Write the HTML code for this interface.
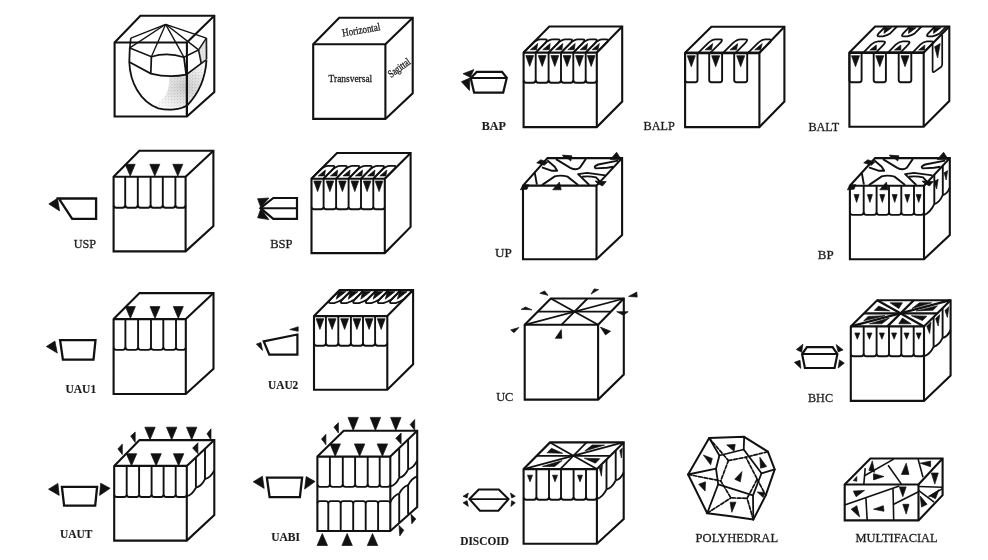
<!DOCTYPE html>
<html><head><meta charset="utf-8"><title>Core typology diagram</title>
<style>
html,body{margin:0;padding:0;background:#fff;}
body{width:988px;height:560px;overflow:hidden;font-family:"Liberation Serif",serif;}
svg{display:block;font-family:"Liberation Serif",serif;}
</style></head><body>
<svg width="988" height="560" viewBox="0 0 988 560">
<rect width="988" height="560" fill="#fff"/>
<defs><filter id="gray" x="0" y="0" width="988" height="560" filterUnits="userSpaceOnUse" color-interpolation-filters="sRGB"><feColorMatrix type="saturate" values="0"/><feGaussianBlur stdDeviation="0.45"/></filter></defs>
<g filter="url(#gray)">
<polygon points="114.6,42.5 140.4,15.8 214.3,15.8 214.3,92 186.9,116.5 114.6,116.5" fill="#fff" stroke="#111" stroke-width="2.1" stroke-linejoin="miter"/>
<polyline points="114.6,42.5 186.9,42.5 186.9,116.5" fill="none" stroke="#111" stroke-width="2.1" />
<line x1="186.9" y1="42.5" x2="214.3" y2="15.8" stroke="#111" stroke-width="2.1" />
<polygon points="313.2,44.2 339.2,17.7 412.7,17.7 412.7,93.2 385.4,118.9 313.2,118.9" fill="#fff" stroke="#111" stroke-width="2.1" stroke-linejoin="miter"/>
<polyline points="313.2,44.2 385.4,44.2 385.4,118.9" fill="none" stroke="#111" stroke-width="2.1" />
<line x1="385.4" y1="44.2" x2="412.7" y2="17.7" stroke="#111" stroke-width="2.1" />
<polygon points="523.6,52.6 549.3,26.5 622.2,26.5 622.2,101.6 596.8,127.1 523.6,127.1" fill="#fff" stroke="#111" stroke-width="2.1" stroke-linejoin="miter"/>
<polyline points="523.6,52.6 596.8,52.6 596.8,127.1" fill="none" stroke="#111" stroke-width="2.1" />
<line x1="596.8" y1="52.6" x2="622.2" y2="26.5" stroke="#111" stroke-width="2.1" />
<polygon points="685.1,52.8 711.4,26.8 784.4,26.8 784.4,101.6 759.4,127.1 685.1,127.1" fill="#fff" stroke="#111" stroke-width="2.1" stroke-linejoin="miter"/>
<polyline points="685.1,52.8 759.4,52.8 759.4,127.1" fill="none" stroke="#111" stroke-width="2.1" />
<line x1="759.4" y1="52.8" x2="784.4" y2="26.8" stroke="#111" stroke-width="2.1" />
<polygon points="849.4,52.6 875.1,26.5 949.3,26.5 949.3,101 923.7,126.7 849.4,126.7" fill="#fff" stroke="#111" stroke-width="2.1" stroke-linejoin="miter"/>
<polyline points="849.4,52.6 923.7,52.6 923.7,126.7" fill="none" stroke="#111" stroke-width="2.1" />
<line x1="923.7" y1="52.6" x2="949.3" y2="26.5" stroke="#111" stroke-width="2.1" />
<polygon points="113.6,176.7 139.3,150.7 213.4,150.7 213.4,226 185.6,251.4 113.6,251.4" fill="#fff" stroke="#111" stroke-width="2.1" stroke-linejoin="miter"/>
<polyline points="113.6,176.7 185.6,176.7 185.6,251.4" fill="none" stroke="#111" stroke-width="2.1" />
<line x1="185.6" y1="176.7" x2="213.4" y2="150.7" stroke="#111" stroke-width="2.1" />
<polygon points="311.5,178.7 337,153 410.6,153 410.6,226.9 384.8,253.1 311.5,253.1" fill="#fff" stroke="#111" stroke-width="2.1" stroke-linejoin="miter"/>
<polyline points="311.5,178.7 384.8,178.7 384.8,253.1" fill="none" stroke="#111" stroke-width="2.1" />
<line x1="384.8" y1="178.7" x2="410.6" y2="153" stroke="#111" stroke-width="2.1" />
<polygon points="523,185.6 547.5,158.1 622.1,158.1 622.1,235 596.5,259.2 523,259.2" fill="#fff" stroke="#111" stroke-width="2.1" stroke-linejoin="miter"/>
<polyline points="523,185.6 596.5,185.6 596.5,259.2" fill="none" stroke="#111" stroke-width="2.1" />
<line x1="596.5" y1="185.6" x2="622.1" y2="158.1" stroke="#111" stroke-width="2.1" />
<polygon points="849.9,185.7 875.1,158.1 949.8,158.1 949.8,235 924,259.2 849.9,259.2" fill="#fff" stroke="#111" stroke-width="2.1" stroke-linejoin="miter"/>
<polyline points="849.9,185.7 924,185.7 924,259.2" fill="none" stroke="#111" stroke-width="2.1" />
<line x1="924" y1="185.7" x2="949.8" y2="158.1" stroke="#111" stroke-width="2.1" />
<polygon points="113.6,319.1 139.5,293.1 213.5,293.1 213.5,368.8 185.8,394 113.6,394" fill="#fff" stroke="#111" stroke-width="2.1" stroke-linejoin="miter"/>
<polyline points="113.6,319.1 185.8,319.1 185.8,394" fill="none" stroke="#111" stroke-width="2.1" />
<line x1="185.8" y1="319.1" x2="213.5" y2="293.1" stroke="#111" stroke-width="2.1" />
<polygon points="314,316.1 339.7,290.1 413.1,290.1 413.1,364.3 387.3,389.8 314,389.8" fill="#fff" stroke="#111" stroke-width="2.1" stroke-linejoin="miter"/>
<polyline points="314,316.1 387.3,316.1 387.3,389.8" fill="none" stroke="#111" stroke-width="2.1" />
<line x1="387.3" y1="316.1" x2="413.1" y2="290.1" stroke="#111" stroke-width="2.1" />
<polygon points="524.7,324.8 550.8,298.5 623.8,298.5 623.8,374.6 598.1,399.6 524.7,399.6" fill="#fff" stroke="#111" stroke-width="2.1" stroke-linejoin="miter"/>
<polyline points="524.7,324.8 598.1,324.8 598.1,399.6" fill="none" stroke="#111" stroke-width="2.1" />
<line x1="598.1" y1="324.8" x2="623.8" y2="298.5" stroke="#111" stroke-width="2.1" />
<polygon points="850.8,326.4 877.2,300.2 950.6,300.2 950.6,375.6 924,400.9 850.8,400.9" fill="#fff" stroke="#111" stroke-width="2.1" stroke-linejoin="miter"/>
<polyline points="850.8,326.4 924,326.4 924,400.9" fill="none" stroke="#111" stroke-width="2.1" />
<line x1="924" y1="326.4" x2="950.6" y2="300.2" stroke="#111" stroke-width="2.1" />
<polygon points="114.2,465.9 139.5,440.1 214.3,440.1 214.3,515 186.8,540.6 114.2,540.6" fill="#fff" stroke="#111" stroke-width="2.1" stroke-linejoin="miter"/>
<polyline points="114.2,465.9 186.8,465.9 186.8,540.6" fill="none" stroke="#111" stroke-width="2.1" />
<line x1="186.8" y1="465.9" x2="214.3" y2="440.1" stroke="#111" stroke-width="2.1" />
<polygon points="317.4,456.6 343.7,430.8 417.2,430.8 417.2,507 390.3,531 317.4,531" fill="#fff" stroke="#111" stroke-width="2.1" stroke-linejoin="miter"/>
<polyline points="317.4,456.6 390.3,456.6 390.3,531" fill="none" stroke="#111" stroke-width="2.1" />
<line x1="390.3" y1="456.6" x2="417.2" y2="430.8" stroke="#111" stroke-width="2.1" />
<polygon points="523.6,469.1 550,442.4 623.7,442.4 623.7,519 596.9,543.8 523.6,543.8" fill="#fff" stroke="#111" stroke-width="2.1" stroke-linejoin="miter"/>
<polyline points="523.6,469.1 596.9,469.1 596.9,543.8" fill="none" stroke="#111" stroke-width="2.1" />
<line x1="596.9" y1="469.1" x2="623.7" y2="442.4" stroke="#111" stroke-width="2.1" />
<polygon points="844.7,484.5 870.4,458.5 942.6,458.5 942.6,495.2 918.5,520.4 844.7,520.4" fill="#fff" stroke="#111" stroke-width="2.1" stroke-linejoin="miter"/>
<polyline points="844.7,484.5 918.5,484.5 918.5,520.4" fill="none" stroke="#111" stroke-width="2.1" />
<line x1="918.5" y1="484.5" x2="942.6" y2="458.5" stroke="#111" stroke-width="2.1" />
<line x1="125.2" y1="176.7" x2="125.2" y2="207.1" stroke="#111" stroke-width="1.9" />
<line x1="137.8" y1="176.7" x2="137.8" y2="207.1" stroke="#111" stroke-width="1.9" />
<line x1="150.6" y1="176.7" x2="150.6" y2="207.1" stroke="#111" stroke-width="1.9" />
<line x1="162.8" y1="176.7" x2="162.8" y2="207.1" stroke="#111" stroke-width="1.9" />
<line x1="175.4" y1="176.7" x2="175.4" y2="207.1" stroke="#111" stroke-width="1.9" />
<path d="M113.6,205.5 Q113.9,207.6 116.2,207.7 L122.6,207.7 Q124.9,207.6 125.2,205.5" fill="none" stroke="#111" stroke-width="1.9" />
<path d="M125.2,205.5 Q125.5,207.6 127.8,207.7 L135.2,207.7 Q137.5,207.6 137.8,205.5" fill="none" stroke="#111" stroke-width="1.9" />
<path d="M137.8,205.5 Q138.1,207.6 140.4,207.7 L148,207.7 Q150.3,207.6 150.6,205.5" fill="none" stroke="#111" stroke-width="1.9" />
<path d="M150.6,205.5 Q150.9,207.6 153.2,207.7 L160.2,207.7 Q162.5,207.6 162.8,205.5" fill="none" stroke="#111" stroke-width="1.9" />
<path d="M162.8,205.5 Q163.1,207.6 165.4,207.7 L172.8,207.7 Q175.1,207.6 175.4,205.5" fill="none" stroke="#111" stroke-width="1.9" />
<path d="M175.4,205.5 Q175.7,207.6 178,207.7 L183,207.7 Q185.3,207.6 185.6,205.5" fill="none" stroke="#111" stroke-width="1.9" />
<polygon points="125.2,164.3 135.2,164.3 130.2,176.1" fill="#111" stroke="#111" stroke-width="0.7" stroke-linejoin="round"/>
<polygon points="149.8,164.3 159.8,164.3 154.8,176.1" fill="#111" stroke="#111" stroke-width="0.7" stroke-linejoin="round"/>
<polygon points="172.8,164.3 182.8,164.3 177.8,176.1" fill="#111" stroke="#111" stroke-width="0.7" stroke-linejoin="round"/>
<polyline points="56.5,198.5 96.1,198.5 96.1,218.8 72.2,218.8 59.6,199.6" fill="none" stroke="#111" stroke-width="2.3" stroke-linejoin="miter"/>
<polygon points="48.8,203.9 57.5,198.3 59.6,210.9" fill="#111" stroke="#111" stroke-width="0.7" stroke-linejoin="round"/>
<line x1="323.6" y1="178.7" x2="323.6" y2="208.7" stroke="#111" stroke-width="1.9" />
<line x1="336.1" y1="178.7" x2="336.1" y2="208.7" stroke="#111" stroke-width="1.9" />
<line x1="348.6" y1="178.7" x2="348.6" y2="208.7" stroke="#111" stroke-width="1.9" />
<line x1="361" y1="178.7" x2="361" y2="208.7" stroke="#111" stroke-width="1.9" />
<line x1="373.3" y1="178.7" x2="373.3" y2="208.7" stroke="#111" stroke-width="1.9" />
<path d="M311.5,207.1 Q311.8,209.2 314.1,209.3 L321,209.3 Q323.3,209.2 323.6,207.1" fill="none" stroke="#111" stroke-width="1.9" />
<path d="M323.6,207.1 Q323.9,209.2 326.2,209.3 L333.5,209.3 Q335.8,209.2 336.1,207.1" fill="none" stroke="#111" stroke-width="1.9" />
<path d="M336.1,207.1 Q336.4,209.2 338.7,209.3 L346,209.3 Q348.3,209.2 348.6,207.1" fill="none" stroke="#111" stroke-width="1.9" />
<path d="M348.6,207.1 Q348.9,209.2 351.2,209.3 L358.4,209.3 Q360.7,209.2 361,207.1" fill="none" stroke="#111" stroke-width="1.9" />
<path d="M361,207.1 Q361.3,209.2 363.6,209.3 L370.7,209.3 Q373,209.2 373.3,207.1" fill="none" stroke="#111" stroke-width="1.9" />
<path d="M373.3,207.1 Q373.6,209.2 375.9,209.3 L382.2,209.3 Q384.5,209.2 384.8,207.1" fill="none" stroke="#111" stroke-width="1.9" />
<polygon points="313.8,181 321.4,181 317.6,191.6" fill="#111" stroke="#111" stroke-width="0.7" stroke-linejoin="round"/>
<polygon points="326.1,181 333.7,181 329.9,191.6" fill="#111" stroke="#111" stroke-width="0.7" stroke-linejoin="round"/>
<polygon points="338.6,181 346.2,181 342.4,191.6" fill="#111" stroke="#111" stroke-width="0.7" stroke-linejoin="round"/>
<polygon points="351,181 358.6,181 354.8,191.6" fill="#111" stroke="#111" stroke-width="0.7" stroke-linejoin="round"/>
<polygon points="363.3,181 370.9,181 367.1,191.6" fill="#111" stroke="#111" stroke-width="0.7" stroke-linejoin="round"/>
<polygon points="375.2,181 382.9,181 379.1,191.6" fill="#111" stroke="#111" stroke-width="0.7" stroke-linejoin="round"/>
<path d="M311.5,178.7 L320.4,169.7 Q324.5,165.8 327.9,165.8 L332.7,165.8 Q336.4,165.8 332,170.2 L323.6,178.7" fill="none" stroke="#111" stroke-width="1.8" />
<polygon points="318.2,175.9 324.5,175.9 325.4,170" fill="#111" stroke="#111" stroke-width="0.7" stroke-linejoin="round"/>
<path d="M323.6,178.7 L332.5,169.7 Q336.6,165.8 340.1,165.8 L345.1,165.8 Q348.9,165.8 344.5,170.2 L336.1,178.7" fill="none" stroke="#111" stroke-width="1.8" />
<polygon points="330.4,175.9 336.9,175.9 337.6,170" fill="#111" stroke="#111" stroke-width="0.7" stroke-linejoin="round"/>
<path d="M336.1,178.7 L345,169.7 Q349.1,165.8 352.6,165.8 L357.6,165.8 Q361.4,165.8 357,170.2 L348.6,178.7" fill="none" stroke="#111" stroke-width="1.8" />
<polygon points="342.9,175.9 349.4,175.9 350.1,170" fill="#111" stroke="#111" stroke-width="0.7" stroke-linejoin="round"/>
<path d="M348.6,178.7 L357.5,169.7 Q361.6,165.8 365.1,165.8 L370,165.8 Q373.8,165.8 369.4,170.2 L361,178.7" fill="none" stroke="#111" stroke-width="1.8" />
<polygon points="355.4,175.9 361.8,175.9 362.6,170" fill="#111" stroke="#111" stroke-width="0.7" stroke-linejoin="round"/>
<path d="M361,178.7 L369.9,169.7 Q374,165.8 377.4,165.8 L382.4,165.8 Q386.1,165.8 381.7,170.2 L373.3,178.7" fill="none" stroke="#111" stroke-width="1.8" />
<polygon points="367.7,175.9 374.1,175.9 375,170" fill="#111" stroke="#111" stroke-width="0.7" stroke-linejoin="round"/>
<path d="M373.3,178.7 L382.2,169.7 Q386.3,165.8 389.5,165.8 L394.1,165.8 Q397.6,165.8 393.2,170.2 L384.8,178.7" fill="none" stroke="#111" stroke-width="1.8" />
<polygon points="379.8,175.9 385.8,175.9 386.9,170" fill="#111" stroke="#111" stroke-width="0.7" stroke-linejoin="round"/>
<polygon points="260.5,208.2 273.3,198 297,198 297,218.8 273.3,218.8" fill="none" stroke="#111" stroke-width="2.2" />
<line x1="260.5" y1="208.2" x2="297" y2="208.2" stroke="#111" stroke-width="2" />
<polygon points="257.6,198.7 268.9,198 260.8,207.6" fill="#111" stroke="#111" stroke-width="0.7" stroke-linejoin="round"/>
<polygon points="260.8,208.8 268.9,219.6 257.6,217.8" fill="#111" stroke="#111" stroke-width="0.7" stroke-linejoin="round"/>
<line x1="535.7" y1="52.6" x2="535.7" y2="82.1" stroke="#111" stroke-width="1.9" />
<line x1="548.6" y1="52.6" x2="548.6" y2="82.1" stroke="#111" stroke-width="1.9" />
<line x1="561" y1="52.6" x2="561" y2="82.1" stroke="#111" stroke-width="1.9" />
<line x1="573.3" y1="52.6" x2="573.3" y2="82.1" stroke="#111" stroke-width="1.9" />
<line x1="585.7" y1="52.6" x2="585.7" y2="82.1" stroke="#111" stroke-width="1.9" />
<path d="M523.6,80.5 Q523.9,82.6 526.2,82.7 L533.1,82.7 Q535.4,82.6 535.7,80.5" fill="none" stroke="#111" stroke-width="1.9" />
<path d="M535.7,80.5 Q536,82.6 538.3,82.7 L546,82.7 Q548.3,82.6 548.6,80.5" fill="none" stroke="#111" stroke-width="1.9" />
<path d="M548.6,80.5 Q548.9,82.6 551.2,82.7 L558.4,82.7 Q560.7,82.6 561,80.5" fill="none" stroke="#111" stroke-width="1.9" />
<path d="M561,80.5 Q561.3,82.6 563.6,82.7 L570.7,82.7 Q573,82.6 573.3,80.5" fill="none" stroke="#111" stroke-width="1.9" />
<path d="M573.3,80.5 Q573.6,82.6 575.9,82.7 L583.1,82.7 Q585.4,82.6 585.7,80.5" fill="none" stroke="#111" stroke-width="1.9" />
<path d="M585.7,80.5 Q586,82.6 588.3,82.7 L594.2,82.7 Q596.5,82.6 596.8,80.5" fill="none" stroke="#111" stroke-width="1.9" />
<polygon points="525.8,55.6 533.6,55.6 529.7,66.4" fill="#111" stroke="#111" stroke-width="0.7" stroke-linejoin="round"/>
<polygon points="538.3,55.6 546.1,55.6 542.2,66.4" fill="#111" stroke="#111" stroke-width="0.7" stroke-linejoin="round"/>
<polygon points="550.9,55.6 558.7,55.6 554.8,66.4" fill="#111" stroke="#111" stroke-width="0.7" stroke-linejoin="round"/>
<polygon points="563.2,55.6 571,55.6 567.1,66.4" fill="#111" stroke="#111" stroke-width="0.7" stroke-linejoin="round"/>
<polygon points="575.6,55.6 583.4,55.6 579.5,66.4" fill="#111" stroke="#111" stroke-width="0.7" stroke-linejoin="round"/>
<polygon points="587.4,55.6 595.1,55.6 591.2,66.4" fill="#111" stroke="#111" stroke-width="0.7" stroke-linejoin="round"/>
<path d="M523.6,52.6 L532.8,43.3 Q536.9,39.3 540.3,39.3 L545.2,39.3 Q548.8,39.3 544.4,43.8 L535.7,52.6" fill="none" stroke="#111" stroke-width="1.8" />
<polygon points="530.4,49.7 536.6,49.7 537.7,43.5" fill="#111" stroke="#111" stroke-width="0.7" stroke-linejoin="round"/>
<path d="M535.7,52.6 L544.9,43.3 Q549.1,39.3 552.7,39.3 L557.8,39.3 Q561.7,39.3 557.3,43.8 L548.6,52.6" fill="none" stroke="#111" stroke-width="1.8" />
<polygon points="542.7,49.7 549.4,49.7 550.2,43.5" fill="#111" stroke="#111" stroke-width="0.7" stroke-linejoin="round"/>
<path d="M548.6,52.6 L557.8,43.3 Q562,39.3 565.4,39.3 L570.4,39.3 Q574.1,39.3 569.7,43.8 L561,52.6" fill="none" stroke="#111" stroke-width="1.8" />
<polygon points="555.5,49.7 561.9,49.7 562.8,43.5" fill="#111" stroke="#111" stroke-width="0.7" stroke-linejoin="round"/>
<path d="M561,52.6 L570.2,43.3 Q574.4,39.3 577.8,39.3 L582.7,39.3 Q586.4,39.3 582,43.8 L573.3,52.6" fill="none" stroke="#111" stroke-width="1.8" />
<polygon points="567.8,49.7 574.2,49.7 575.2,43.5" fill="#111" stroke="#111" stroke-width="0.7" stroke-linejoin="round"/>
<path d="M573.3,52.6 L582.5,43.3 Q586.7,39.3 590.1,39.3 L595.1,39.3 Q598.8,39.3 594.4,43.8 L585.7,52.6" fill="none" stroke="#111" stroke-width="1.8" />
<polygon points="580.2,49.7 586.6,49.7 587.5,43.5" fill="#111" stroke="#111" stroke-width="0.7" stroke-linejoin="round"/>
<path d="M585.7,52.6 L594.9,43.3 Q599,39.3 602.1,39.3 L606.6,39.3 Q609.9,39.3 605.5,43.8 L596.8,52.6" fill="none" stroke="#111" stroke-width="1.8" />
<polygon points="592.1,49.7 597.9,49.7 599.4,43.5" fill="#111" stroke="#111" stroke-width="0.7" stroke-linejoin="round"/>
<polygon points="476.7,71.9 502,71.9 506.8,77.8 503.2,92.6 474.1,92.6 470.7,78.1" fill="none" stroke="#111" stroke-width="2.2" />
<line x1="470.7" y1="77.9" x2="506.8" y2="77.9" stroke="#111" stroke-width="2" />
<polygon points="463,73.7 473.9,69.6 470.3,77.3" fill="#111" stroke="#111" stroke-width="0.7" stroke-linejoin="round"/>
<polygon points="461.4,81.7 469.8,78.1 469.5,90.5" fill="#111" stroke="#111" stroke-width="0.7" stroke-linejoin="round"/>
<path d="M685.1,52.8 L685.1,80 Q685.1,82.2 687.3,82.2 L695.3,82.2 Q697.5,82.2 697.5,80 L697.5,52.8" fill="none" stroke="#111" stroke-width="1.9" />
<polygon points="687.3,55.7 695.3,55.7 691.3,66.7" fill="#111" stroke="#111" stroke-width="0.7" stroke-linejoin="round"/>
<path d="M709.2,52.8 L709.2,80 Q709.2,82.2 711.4,82.2 L719.9,82.2 Q722.1,82.2 722.1,80 L722.1,52.8" fill="none" stroke="#111" stroke-width="1.9" />
<polygon points="711.7,55.7 719.7,55.7 715.7,66.7" fill="#111" stroke="#111" stroke-width="0.7" stroke-linejoin="round"/>
<path d="M734.2,52.8 L734.2,80 Q734.2,82.2 736.4,82.2 L745,82.2 Q747.2,82.2 747.2,80 L747.2,52.8" fill="none" stroke="#111" stroke-width="1.9" />
<polygon points="736.7,55.7 744.7,55.7 740.7,66.7" fill="#111" stroke="#111" stroke-width="0.7" stroke-linejoin="round"/>
<path d="M698.2,52.8 L707.8,43.3 Q712.1,39.3 715.5,39.3 L720.3,39.3 Q724,39.3 719.3,43.9 L710.3,52.8" fill="none" stroke="#111" stroke-width="1.8" />
<polygon points="705.1,49.8 711.4,49.8 712.7,43.6" fill="#111" stroke="#111" stroke-width="0.7" stroke-linejoin="round"/>
<path d="M723,52.8 L732.6,43.3 Q736.9,39.3 740.4,39.3 L745.4,39.3 Q749.2,39.3 744.5,43.9 L735.5,52.8" fill="none" stroke="#111" stroke-width="1.8" />
<polygon points="730,49.8 736.5,49.8 737.7,43.6" fill="#111" stroke="#111" stroke-width="0.7" stroke-linejoin="round"/>
<path d="M748,52.8 L757.6,43.3 Q761.9,39.3 765.1,39.3 L769.7,39.3 Q773.1,39.3 768.4,43.9 L759.4,52.8" fill="none" stroke="#111" stroke-width="1.8" />
<polygon points="754.7,49.8 760.6,49.8 762.2,43.6" fill="#111" stroke="#111" stroke-width="0.7" stroke-linejoin="round"/>
<line x1="685.1" y1="53" x2="759.4" y2="53" stroke="#111" stroke-width="2.6" />
<path d="M849.4,52.6 L849.4,80 Q849.4,82.2 851.6,82.2 L859.4,82.2 Q861.6,82.2 861.6,80 L861.6,52.6" fill="none" stroke="#111" stroke-width="1.9" />
<polygon points="851.5,55.7 859.5,55.7 855.5,66.7" fill="#111" stroke="#111" stroke-width="0.7" stroke-linejoin="round"/>
<path d="M873.7,52.6 L873.7,80 Q873.7,82.2 875.9,82.2 L883.7,82.2 Q885.9,82.2 885.9,80 L885.9,52.6" fill="none" stroke="#111" stroke-width="1.9" />
<polygon points="875.8,55.7 883.8,55.7 879.8,66.7" fill="#111" stroke="#111" stroke-width="0.7" stroke-linejoin="round"/>
<path d="M898.7,52.6 L898.7,80 Q898.7,82.2 900.9,82.2 L909.1,82.2 Q911.3,82.2 911.3,80 L911.3,52.6" fill="none" stroke="#111" stroke-width="1.9" />
<polygon points="901,55.7 909,55.7 905,66.7" fill="#111" stroke="#111" stroke-width="0.7" stroke-linejoin="round"/>
<path d="M863.4,52.6 L871.1,44.7 Q874.7,41.4 878.2,41.4 L883.2,41.4 Q887,41.4 883.2,45.2 L875.9,52.6" fill="none" stroke="#111" stroke-width="1.8" />
<polygon points="869.8,50.1 876.3,50.1 876.3,45" fill="#111" stroke="#111" stroke-width="0.7" stroke-linejoin="round"/>
<path d="M888,52.6 L895.7,44.7 Q899.3,41.4 902.8,41.4 L907.7,41.4 Q911.5,41.4 907.7,45.2 L900.4,52.6" fill="none" stroke="#111" stroke-width="1.8" />
<polygon points="894.4,50.1 900.8,50.1 900.8,45" fill="#111" stroke="#111" stroke-width="0.7" stroke-linejoin="round"/>
<path d="M912.6,52.6 L920.3,44.7 Q923.9,41.4 927,41.4 L931.4,41.4 Q934.8,41.4 931,45.2 L923.7,52.6" fill="none" stroke="#111" stroke-width="1.8" />
<polygon points="918.6,50.1 924.4,50.1 924.9,45" fill="#111" stroke="#111" stroke-width="0.7" stroke-linejoin="round"/>
<line x1="849.4" y1="52.8" x2="923.7" y2="52.8" stroke="#111" stroke-width="2.6" />
<path d="M885.5,26.5 L878.7,33.4 Q876,36.4 879.2,36.4 L882.9,36.4 Q887.3,35.2 890.2,33.4 L897,26.5" fill="none" stroke="#111" stroke-width="1.8" />
<polygon points="884.5,27.5 891.7,27.7 884,33.4" fill="#111" stroke="#111" stroke-width="0.7" stroke-linejoin="round"/>
<path d="M910,26.5 L903.2,33.4 Q900.5,36.4 903.7,36.4 L907.4,36.4 Q911.8,35.2 914.7,33.4 L921.5,26.5" fill="none" stroke="#111" stroke-width="1.8" />
<polygon points="909,27.5 916.2,27.7 908.5,33.4" fill="#111" stroke="#111" stroke-width="0.7" stroke-linejoin="round"/>
<path d="M935,26.5 L928.2,33.4 Q925.5,36.4 928.7,36.4 L932.4,36.4 Q936.8,35.2 939.7,33.4 L946.5,26.5" fill="none" stroke="#111" stroke-width="1.8" />
<polygon points="934,27.5 941.2,27.7 933.5,33.4" fill="#111" stroke="#111" stroke-width="0.7" stroke-linejoin="round"/>
<path d="M932.6,44.1 L932.6,71 Q932.8,73 934.6,71.6 L941,67 Q942.2,66 942.2,64 L942.2,35" fill="none" stroke="#111" stroke-width="1.7" />
<polygon points="934.6,46.8 940.2,43.6 937.6,58" fill="#111" stroke="#111" stroke-width="0.7" stroke-linejoin="round"/>
<line x1="125.4" y1="319.1" x2="125.4" y2="349.3" stroke="#111" stroke-width="1.9" />
<line x1="138.1" y1="319.1" x2="138.1" y2="349.3" stroke="#111" stroke-width="1.9" />
<line x1="151" y1="319.1" x2="151" y2="349.3" stroke="#111" stroke-width="1.9" />
<line x1="163.3" y1="319.1" x2="163.3" y2="349.3" stroke="#111" stroke-width="1.9" />
<line x1="176" y1="319.1" x2="176" y2="349.3" stroke="#111" stroke-width="1.9" />
<path d="M113.6,347.7 Q113.9,349.8 116.2,349.9 L122.8,349.9 Q125.1,349.8 125.4,347.7" fill="none" stroke="#111" stroke-width="1.9" />
<path d="M125.4,347.7 Q125.7,349.8 128,349.9 L135.5,349.9 Q137.8,349.8 138.1,347.7" fill="none" stroke="#111" stroke-width="1.9" />
<path d="M138.1,347.7 Q138.4,349.8 140.7,349.9 L148.4,349.9 Q150.7,349.8 151,347.7" fill="none" stroke="#111" stroke-width="1.9" />
<path d="M151,347.7 Q151.3,349.8 153.6,349.9 L160.7,349.9 Q163,349.8 163.3,347.7" fill="none" stroke="#111" stroke-width="1.9" />
<path d="M163.3,347.7 Q163.6,349.8 165.9,349.9 L173.4,349.9 Q175.7,349.8 176,347.7" fill="none" stroke="#111" stroke-width="1.9" />
<path d="M176,347.7 Q176.3,349.8 178.6,349.9 L183.2,349.9 Q185.5,349.8 185.8,347.7" fill="none" stroke="#111" stroke-width="1.9" />
<polygon points="125.4,306.6 135.4,306.6 130.4,318.4" fill="#111" stroke="#111" stroke-width="0.7" stroke-linejoin="round"/>
<polygon points="150,306.6 160,306.6 155,318.4" fill="#111" stroke="#111" stroke-width="0.7" stroke-linejoin="round"/>
<polygon points="173.3,306.6 183.3,306.6 178.3,318.4" fill="#111" stroke="#111" stroke-width="0.7" stroke-linejoin="round"/>
<polygon points="60.1,340.1 95.5,340.1 93.5,359.6 62.9,359.6" fill="none" stroke="#111" stroke-width="2.3" />
<polygon points="46.4,346.5 54.9,341.1 57.3,353.1" fill="#111" stroke="#111" stroke-width="0.7" stroke-linejoin="round"/>
<line x1="325.9" y1="316.1" x2="325.9" y2="345.1" stroke="#111" stroke-width="1.9" />
<line x1="338.3" y1="316.1" x2="338.3" y2="345.1" stroke="#111" stroke-width="1.9" />
<line x1="350.9" y1="316.1" x2="350.9" y2="345.1" stroke="#111" stroke-width="1.9" />
<line x1="363" y1="316.1" x2="363" y2="345.1" stroke="#111" stroke-width="1.9" />
<line x1="375.1" y1="316.1" x2="375.1" y2="345.1" stroke="#111" stroke-width="1.9" />
<path d="M314,343.5 Q314.3,345.6 316.6,345.7 L323.3,345.7 Q325.6,345.6 325.9,343.5" fill="none" stroke="#111" stroke-width="1.9" />
<path d="M325.9,343.5 Q326.2,345.6 328.5,345.7 L335.7,345.7 Q338,345.6 338.3,343.5" fill="none" stroke="#111" stroke-width="1.9" />
<path d="M338.3,343.5 Q338.6,345.6 340.9,345.7 L348.3,345.7 Q350.6,345.6 350.9,343.5" fill="none" stroke="#111" stroke-width="1.9" />
<path d="M350.9,343.5 Q351.2,345.6 353.5,345.7 L360.4,345.7 Q362.7,345.6 363,343.5" fill="none" stroke="#111" stroke-width="1.9" />
<path d="M363,343.5 Q363.3,345.6 365.6,345.7 L372.5,345.7 Q374.8,345.6 375.1,343.5" fill="none" stroke="#111" stroke-width="1.9" />
<path d="M375.1,343.5 Q375.4,345.6 377.7,345.7 L384.7,345.7 Q387,345.6 387.3,343.5" fill="none" stroke="#111" stroke-width="1.9" />
<polygon points="316.1,318.7 323.8,318.7 319.9,329.4" fill="#111" stroke="#111" stroke-width="0.7" stroke-linejoin="round"/>
<polygon points="328.2,318.7 336,318.7 332.1,329.4" fill="#111" stroke="#111" stroke-width="0.7" stroke-linejoin="round"/>
<polygon points="340.7,318.7 348.5,318.7 344.6,329.4" fill="#111" stroke="#111" stroke-width="0.7" stroke-linejoin="round"/>
<polygon points="353.1,318.7 360.8,318.7 356.9,329.4" fill="#111" stroke="#111" stroke-width="0.7" stroke-linejoin="round"/>
<polygon points="365.2,318.7 372.9,318.7 369.1,329.4" fill="#111" stroke="#111" stroke-width="0.7" stroke-linejoin="round"/>
<polygon points="377.3,318.7 385.1,318.7 381.2,329.4" fill="#111" stroke="#111" stroke-width="0.7" stroke-linejoin="round"/>
<path d="M339.7,290.1 L330.7,299.2 Q327.1,303.1 330.4,303.1 L334.2,303.1 Q339.1,301.5 342.6,299.2 L351.6,290.1" fill="none" stroke="#111" stroke-width="1.8" />
<polygon points="338.4,291.4 345.8,291.7 336.2,299.2" fill="#111" stroke="#111" stroke-width="0.7" stroke-linejoin="round"/>
<path d="M351.6,290.1 L342.6,299.2 Q339,303.1 342.5,303.1 L346.4,303.1 Q351.5,301.5 355,299.2 L364,290.1" fill="none" stroke="#111" stroke-width="1.8" />
<polygon points="350.3,291.4 358,291.7 348.3,299.2" fill="#111" stroke="#111" stroke-width="0.7" stroke-linejoin="round"/>
<path d="M364,290.1 L355,299.2 Q351.4,303.1 354.9,303.1 L359,303.1 Q364,301.5 367.6,299.2 L376.6,290.1" fill="none" stroke="#111" stroke-width="1.8" />
<polygon points="362.7,291.4 370.5,291.7 360.8,299.2" fill="#111" stroke="#111" stroke-width="0.7" stroke-linejoin="round"/>
<path d="M376.6,290.1 L367.6,299.2 Q364,303.1 367.4,303.1 L371.3,303.1 Q376.2,301.5 379.7,299.2 L388.7,290.1" fill="none" stroke="#111" stroke-width="1.8" />
<polygon points="375.3,291.4 382.8,291.7 373.2,299.2" fill="#111" stroke="#111" stroke-width="0.7" stroke-linejoin="round"/>
<path d="M388.7,290.1 L379.7,299.2 Q376.1,303.1 379.5,303.1 L383.4,303.1 Q388.3,301.5 391.8,299.2 L400.8,290.1" fill="none" stroke="#111" stroke-width="1.8" />
<polygon points="387.4,291.4 394.9,291.7 385.3,299.2" fill="#111" stroke="#111" stroke-width="0.7" stroke-linejoin="round"/>
<path d="M400.8,290.1 L391.8,299.2 Q388.2,303.1 391.6,303.1 L395.5,303.1 Q400.5,301.5 404,299.2 L413,290.1" fill="none" stroke="#111" stroke-width="1.8" />
<polygon points="399.5,291.4 407.1,291.7 397.4,299.2" fill="#111" stroke="#111" stroke-width="0.7" stroke-linejoin="round"/>
<polygon points="263.7,341.3 297.4,334.5 297.4,354.6 269.3,354.6" fill="none" stroke="#111" stroke-width="2.2" />
<polygon points="289.8,329.5 298.2,326.8 298.2,331.3" fill="#111" stroke="#111" stroke-width="0.7" stroke-linejoin="round"/>
<polygon points="256.4,344.1 260.9,342.5 262.5,350.5" fill="#111" stroke="#111" stroke-width="0.7" stroke-linejoin="round"/>
<line x1="524.7" y1="324.8" x2="624.2" y2="298.5" stroke="#111" stroke-width="1.8" />
<line x1="550.8" y1="298.5" x2="598.1" y2="324.8" stroke="#111" stroke-width="1.8" />
<line x1="537.8" y1="311.6" x2="611.1" y2="311.6" stroke="#111" stroke-width="1.8" />
<line x1="561.4" y1="324.8" x2="587.5" y2="298.5" stroke="#111" stroke-width="1.8" />
<polygon points="539.8,293.3 544.6,290.9 548,295.3" fill="#111" stroke="#111" stroke-width="0.7" stroke-linejoin="round"/>
<polygon points="591.1,294.1 594.1,288.9 598.6,289.6" fill="#111" stroke="#111" stroke-width="0.7" stroke-linejoin="round"/>
<polygon points="628.6,296.4 636.8,292 637.2,297.1" fill="#111" stroke="#111" stroke-width="0.7" stroke-linejoin="round"/>
<polygon points="521.1,309.4 525.5,307 531.9,309.8" fill="#111" stroke="#111" stroke-width="0.7" stroke-linejoin="round"/>
<polygon points="616.7,311.7 628.2,311.7 623.3,315.2" fill="#111" stroke="#111" stroke-width="0.7" stroke-linejoin="round"/>
<polygon points="510.7,329.9 518.9,327.5 514,332.7" fill="#111" stroke="#111" stroke-width="0.7" stroke-linejoin="round"/>
<polygon points="555.3,338.3 561.3,329.6 561.8,338.3" fill="#111" stroke="#111" stroke-width="0.7" stroke-linejoin="round"/>
<polygon points="600.4,327.1 610.5,331.2 605.5,334.9" fill="#111" stroke="#111" stroke-width="0.7" stroke-linejoin="round"/>
<line x1="126.7" y1="465.9" x2="126.7" y2="496.4" stroke="#111" stroke-width="1.9" />
<line x1="139.1" y1="465.9" x2="139.1" y2="496.4" stroke="#111" stroke-width="1.9" />
<line x1="151.6" y1="465.9" x2="151.6" y2="496.4" stroke="#111" stroke-width="1.9" />
<line x1="163.6" y1="465.9" x2="163.6" y2="496.4" stroke="#111" stroke-width="1.9" />
<line x1="175.7" y1="465.9" x2="175.7" y2="496.4" stroke="#111" stroke-width="1.9" />
<path d="M114.2,494.8 Q114.5,496.9 116.8,497 L124.1,497 Q126.4,496.9 126.7,494.8" fill="none" stroke="#111" stroke-width="1.9" />
<path d="M126.7,494.8 Q127,496.9 129.3,497 L136.5,497 Q138.8,496.9 139.1,494.8" fill="none" stroke="#111" stroke-width="1.9" />
<path d="M139.1,494.8 Q139.4,496.9 141.7,497 L149,497 Q151.3,496.9 151.6,494.8" fill="none" stroke="#111" stroke-width="1.9" />
<path d="M151.6,494.8 Q151.9,496.9 154.2,497 L161,497 Q163.3,496.9 163.6,494.8" fill="none" stroke="#111" stroke-width="1.9" />
<path d="M163.6,494.8 Q163.9,496.9 166.2,497 L173.1,497 Q175.4,496.9 175.7,494.8" fill="none" stroke="#111" stroke-width="1.9" />
<path d="M175.7,494.8 Q176,496.9 178.3,497 L184.2,497 Q186.5,496.9 186.8,494.8" fill="none" stroke="#111" stroke-width="1.9" />
<line x1="195.9" y1="457.4" x2="195.9" y2="487.6" stroke="#111" stroke-width="1.9" />
<line x1="205" y1="448.9" x2="205" y2="479.1" stroke="#111" stroke-width="1.9" />
<path d="M186.8,496.2 Q192.3,494.9 195.9,487.6" fill="none" stroke="#111" stroke-width="1.9" />
<path d="M195.9,487.6 Q201.4,486.4 205,479.1" fill="none" stroke="#111" stroke-width="1.9" />
<path d="M205,479.1 Q210.6,477.7 214.3,470.4" fill="none" stroke="#111" stroke-width="1.9" />
<polygon points="144.8,427.2 155.2,427.2 150,439.8" fill="#111" stroke="#111" stroke-width="0.7" stroke-linejoin="round"/>
<polygon points="166.5,427.2 176.9,427.2 171.7,439.8" fill="#111" stroke="#111" stroke-width="0.7" stroke-linejoin="round"/>
<polygon points="186.5,427.2 196.9,427.2 191.7,439.8" fill="#111" stroke="#111" stroke-width="0.7" stroke-linejoin="round"/>
<polygon points="126.3,453.7 136.7,453.7 131.5,465.7" fill="#111" stroke="#111" stroke-width="0.7" stroke-linejoin="round"/>
<polygon points="150.9,453.7 161.3,453.7 156.1,465.7" fill="#111" stroke="#111" stroke-width="0.7" stroke-linejoin="round"/>
<polygon points="173.4,453.7 183.8,453.7 178.6,465.7" fill="#111" stroke="#111" stroke-width="0.7" stroke-linejoin="round"/>
<polygon points="130.7,436.1 135.2,432 135.2,442.5" fill="#111" stroke="#111" stroke-width="0.7" stroke-linejoin="round"/>
<polygon points="117.9,448.9 122.3,444.1 122.3,454.5" fill="#111" stroke="#111" stroke-width="0.7" stroke-linejoin="round"/>
<polygon points="207,433.7 211,428.8 211,440.1" fill="#111" stroke="#111" stroke-width="0.7" stroke-linejoin="round"/>
<polygon points="192.6,448.1 197.9,442.8 197.9,453.7" fill="#111" stroke="#111" stroke-width="0.7" stroke-linejoin="round"/>
<polygon points="61.9,486.8 97.1,486.8 95.2,505.7 64.1,505.7" fill="none" stroke="#111" stroke-width="2.3" />
<polygon points="48.5,489.2 57.9,483.4 59.2,495.4" fill="#111" stroke="#111" stroke-width="0.7" stroke-linejoin="round"/>
<polygon points="110.1,488.3 100.7,483.2 99.6,495.4" fill="#111" stroke="#111" stroke-width="0.7" stroke-linejoin="round"/>
<line x1="329.9" y1="456.6" x2="329.9" y2="486.3" stroke="#111" stroke-width="1.9" />
<line x1="342.8" y1="456.6" x2="342.8" y2="486.3" stroke="#111" stroke-width="1.9" />
<line x1="355.1" y1="456.6" x2="355.1" y2="486.3" stroke="#111" stroke-width="1.9" />
<line x1="367.7" y1="456.6" x2="367.7" y2="486.3" stroke="#111" stroke-width="1.9" />
<line x1="379.7" y1="456.6" x2="379.7" y2="486.3" stroke="#111" stroke-width="1.9" />
<path d="M317.4,484.7 Q317.7,486.8 320,486.9 L327.3,486.9 Q329.6,486.8 329.9,484.7" fill="none" stroke="#111" stroke-width="1.9" />
<path d="M329.9,484.7 Q330.2,486.8 332.5,486.9 L340.2,486.9 Q342.5,486.8 342.8,484.7" fill="none" stroke="#111" stroke-width="1.9" />
<path d="M342.8,484.7 Q343.1,486.8 345.4,486.9 L352.5,486.9 Q354.8,486.8 355.1,484.7" fill="none" stroke="#111" stroke-width="1.9" />
<path d="M355.1,484.7 Q355.4,486.8 357.7,486.9 L365.1,486.9 Q367.4,486.8 367.7,484.7" fill="none" stroke="#111" stroke-width="1.9" />
<path d="M367.7,484.7 Q368,486.8 370.3,486.9 L377.1,486.9 Q379.4,486.8 379.7,484.7" fill="none" stroke="#111" stroke-width="1.9" />
<path d="M379.7,484.7 Q380,486.8 382.3,486.9 L387.7,486.9 Q390,486.8 390.3,484.7" fill="none" stroke="#111" stroke-width="1.9" />
<line x1="328.3" y1="502.6" x2="328.3" y2="531" stroke="#111" stroke-width="1.9" />
<line x1="340.7" y1="502.6" x2="340.7" y2="531" stroke="#111" stroke-width="1.9" />
<line x1="353.2" y1="502.6" x2="353.2" y2="531" stroke="#111" stroke-width="1.9" />
<line x1="365.7" y1="502.6" x2="365.7" y2="531" stroke="#111" stroke-width="1.9" />
<line x1="378.1" y1="502.6" x2="378.1" y2="531" stroke="#111" stroke-width="1.9" />
<path d="M317.4,503.2 Q317.7,501.2 319.9,501.1 L325.8,501.1 Q328,501.2 328.3,503.2" fill="none" stroke="#111" stroke-width="1.9" />
<path d="M328.3,503.2 Q328.6,501.2 330.8,501.1 L338.2,501.1 Q340.4,501.2 340.7,503.2" fill="none" stroke="#111" stroke-width="1.9" />
<path d="M340.7,503.2 Q341,501.2 343.2,501.1 L350.7,501.1 Q352.9,501.2 353.2,503.2" fill="none" stroke="#111" stroke-width="1.9" />
<path d="M353.2,503.2 Q353.5,501.2 355.7,501.1 L363.2,501.1 Q365.4,501.2 365.7,503.2" fill="none" stroke="#111" stroke-width="1.9" />
<path d="M365.7,503.2 Q366,501.2 368.2,501.1 L375.6,501.1 Q377.8,501.2 378.1,503.2" fill="none" stroke="#111" stroke-width="1.9" />
<path d="M378.1,503.2 Q378.4,501.2 380.6,501.1 L387.8,501.1 Q390,501.2 390.3,503.2" fill="none" stroke="#111" stroke-width="1.9" />
<line x1="399.2" y1="448.1" x2="399.2" y2="477.8" stroke="#111" stroke-width="1.9" />
<line x1="408.1" y1="439.6" x2="408.1" y2="469.3" stroke="#111" stroke-width="1.9" />
<path d="M390.3,486.4 Q395.7,485.1 399.2,477.8" fill="none" stroke="#111" stroke-width="1.9" />
<path d="M399.2,477.8 Q404.6,476.6 408.1,469.3" fill="none" stroke="#111" stroke-width="1.9" />
<path d="M408.1,469.3 Q413.6,467.9 417.2,460.6" fill="none" stroke="#111" stroke-width="1.9" />
<line x1="399.2" y1="493.7" x2="399.2" y2="522.5" stroke="#111" stroke-width="1.9" />
<line x1="408.1" y1="485.2" x2="408.1" y2="514" stroke="#111" stroke-width="1.9" />
<path d="M390.3,502.2 Q393.7,495.4 399.2,493.7" fill="none" stroke="#111" stroke-width="1.9" />
<path d="M399.2,493.7 Q402.6,486.9 408.1,485.2" fill="none" stroke="#111" stroke-width="1.9" />
<path d="M408.1,485.2 Q411.6,478.3 417.2,476.4" fill="none" stroke="#111" stroke-width="1.9" />
<polygon points="348,417.4 358.4,417.4 353.2,430.4" fill="#111" stroke="#111" stroke-width="0.7" stroke-linejoin="round"/>
<polygon points="370.2,417.4 380.6,417.4 375.4,430.4" fill="#111" stroke="#111" stroke-width="0.7" stroke-linejoin="round"/>
<polygon points="390.6,417.4 401,417.4 395.8,430.4" fill="#111" stroke="#111" stroke-width="0.7" stroke-linejoin="round"/>
<polygon points="330,443.9 340.4,443.9 335.2,456.3" fill="#111" stroke="#111" stroke-width="0.7" stroke-linejoin="round"/>
<polygon points="354.4,443.9 364.8,443.9 359.6,456.3" fill="#111" stroke="#111" stroke-width="0.7" stroke-linejoin="round"/>
<polygon points="377.2,443.9 387.6,443.9 382.4,456.3" fill="#111" stroke="#111" stroke-width="0.7" stroke-linejoin="round"/>
<polygon points="333.9,427 338.4,422.7 338.4,433" fill="#111" stroke="#111" stroke-width="0.7" stroke-linejoin="round"/>
<polygon points="321.5,439.1 325.9,434.3 325.9,444.7" fill="#111" stroke="#111" stroke-width="0.7" stroke-linejoin="round"/>
<polygon points="410.2,424.6 414.7,419.5 414.7,430.3" fill="#111" stroke="#111" stroke-width="0.7" stroke-linejoin="round"/>
<polygon points="395.8,438.3 401.1,433 401.1,443.9" fill="#111" stroke="#111" stroke-width="0.7" stroke-linejoin="round"/>
<polygon points="317.1,545.5 327.5,545.5 322.3,533.5" fill="#111" stroke="#111" stroke-width="0.7" stroke-linejoin="round"/>
<polygon points="341.9,545.5 352.3,545.5 347.1,533.5" fill="#111" stroke="#111" stroke-width="0.7" stroke-linejoin="round"/>
<polygon points="367.3,545.5 377.7,545.5 372.5,533.5" fill="#111" stroke="#111" stroke-width="0.7" stroke-linejoin="round"/>
<polygon points="399,525.4 403.8,530.2 399.8,535.9" fill="#111" stroke="#111" stroke-width="0.7" stroke-linejoin="round"/>
<polygon points="411,514.2 415.8,519 411.8,523.8" fill="#111" stroke="#111" stroke-width="0.7" stroke-linejoin="round"/>
<polygon points="266.9,477.7 302.1,477.7 299.9,497.1 269.6,497.1" fill="none" stroke="#111" stroke-width="2.3" />
<polygon points="253.2,481.8 262.4,476.2 264.2,488.4" fill="#111" stroke="#111" stroke-width="0.7" stroke-linejoin="round"/>
<polygon points="315.1,481.5 306.2,476.6 304.6,489.1" fill="#111" stroke="#111" stroke-width="0.7" stroke-linejoin="round"/>
<path d="M541.9,185.1 L554.7,176.4 Q560.9,174.7 567.6,176.7 L578.1,185.1" fill="none" stroke="#111" stroke-width="1.9" />
<path d="M555.9,159.1 L570.3,167.8 Q575.9,170.6 579.8,167.8 L585.9,158.9" fill="none" stroke="#111" stroke-width="1.9" />
<path d="M547.2,160.2 L554.7,166.7 L557.2,170.7 L551.4,170.7 L541.9,167.3" fill="none" stroke="#111" stroke-width="1.9" stroke-linejoin="round"/>
<path d="M618.2,160.6 L598.2,164.5 Q592.6,166.7 596,168.4 L607.1,167.8 L613.5,166.7" fill="none" stroke="#111" stroke-width="1.9" />
<path d="M605.4,175.4 L587,172.9 L578.1,174.1 L589.3,185" fill="none" stroke="#111" stroke-width="1.9" stroke-linejoin="round"/>
<path d="M582,176.7 Q589.3,175.8 596,177.4 L599.8,181.4" fill="none" stroke="#111" stroke-width="1.9" />
<path d="M534.7,172.3 L536.9,184.7" fill="none" stroke="#111" stroke-width="1.9" />
<polygon points="520.4,189.8 523,184.7 528.9,184.7 527.1,189.2" fill="#111" stroke="#111" stroke-width="0.7" stroke-linejoin="round"/>
<polygon points="552.7,189.8 561.2,189.8 559.4,182.1" fill="#111" stroke="#111" stroke-width="0.7" stroke-linejoin="round"/>
<polygon points="536.7,162.8 540.8,159.8 547.8,162.2 544.3,165.3" fill="#111" stroke="#111" stroke-width="0.7" stroke-linejoin="round"/>
<polygon points="562.3,155.1 571.9,155.8 570.8,161.1 568.3,158.9 564.5,158" fill="#111" stroke="#111" stroke-width="0.7" stroke-linejoin="round"/>
<polygon points="610.2,159.6 616.6,152.2 621.3,159.6" fill="#111" stroke="#111" stroke-width="0.7" stroke-linejoin="round"/>
<polygon points="595.1,181 606.2,181.6 602.6,185.9 597.5,183.6" fill="#111" stroke="#111" stroke-width="0.7" stroke-linejoin="round"/>
<line x1="863.7" y1="185.7" x2="863.7" y2="214.3" stroke="#111" stroke-width="1.9" />
<line x1="876.6" y1="185.7" x2="876.6" y2="214.3" stroke="#111" stroke-width="1.9" />
<line x1="889" y1="185.7" x2="889" y2="214.3" stroke="#111" stroke-width="1.9" />
<line x1="901.3" y1="185.7" x2="901.3" y2="214.3" stroke="#111" stroke-width="1.9" />
<line x1="914" y1="185.7" x2="914" y2="214.3" stroke="#111" stroke-width="1.9" />
<path d="M849.9,212.7 Q850.2,214.8 852.5,214.9 L861.1,214.9 Q863.4,214.8 863.7,212.7" fill="none" stroke="#111" stroke-width="1.9" />
<path d="M863.7,212.7 Q864,214.8 866.3,214.9 L874,214.9 Q876.3,214.8 876.6,212.7" fill="none" stroke="#111" stroke-width="1.9" />
<path d="M876.6,212.7 Q876.9,214.8 879.2,214.9 L886.4,214.9 Q888.7,214.8 889,212.7" fill="none" stroke="#111" stroke-width="1.9" />
<path d="M889,212.7 Q889.3,214.8 891.6,214.9 L898.7,214.9 Q901,214.8 901.3,212.7" fill="none" stroke="#111" stroke-width="1.9" />
<path d="M901.3,212.7 Q901.6,214.8 903.9,214.9 L911.4,214.9 Q913.7,214.8 914,212.7" fill="none" stroke="#111" stroke-width="1.9" />
<path d="M914,212.7 Q914.3,214.8 916.6,214.9 L921.4,214.9 Q923.7,214.8 924,212.7" fill="none" stroke="#111" stroke-width="1.9" />
<polygon points="854.1,194.6 859.1,194.6 856.6,202.4" fill="#111" stroke="#111" stroke-width="0.7" stroke-linejoin="round"/>
<polygon points="867.4,194.6 872.4,194.6 869.9,202.4" fill="#111" stroke="#111" stroke-width="0.7" stroke-linejoin="round"/>
<polygon points="879.8,194.6 884.8,194.6 882.3,202.4" fill="#111" stroke="#111" stroke-width="0.7" stroke-linejoin="round"/>
<polygon points="892.2,194.6 897.2,194.6 894.7,202.4" fill="#111" stroke="#111" stroke-width="0.7" stroke-linejoin="round"/>
<polygon points="904.8,194.6 909.8,194.6 907.3,202.4" fill="#111" stroke="#111" stroke-width="0.7" stroke-linejoin="round"/>
<polygon points="916.2,194.6 921.2,194.6 918.7,202.4" fill="#111" stroke="#111" stroke-width="0.7" stroke-linejoin="round"/>
<line x1="934.3" y1="174.7" x2="934.3" y2="204.1" stroke="#111" stroke-width="1.9" />
<line x1="942.8" y1="165.6" x2="942.8" y2="195" stroke="#111" stroke-width="1.9" />
<path d="M924,215.1 Q930.2,212.6 934.3,204.1" fill="none" stroke="#111" stroke-width="1.9" />
<path d="M934.3,204.1 Q939.6,202.5 942.8,195" fill="none" stroke="#111" stroke-width="1.9" />
<path d="M942.8,195 Q947.3,194.2 949.8,187.5" fill="none" stroke="#111" stroke-width="1.9" />
<polygon points="934.1,181.6 938.2,179.2 936.6,189" fill="#111" stroke="#111" stroke-width="0.7" stroke-linejoin="round"/>
<polygon points="944.1,172.8 947.6,170.6 946.2,180" fill="#111" stroke="#111" stroke-width="0.7" stroke-linejoin="round"/>
<path d="M868.9,185.1 L881.7,176.4 Q887.9,174.7 894.6,176.7 L905.1,185.1" fill="none" stroke="#111" stroke-width="1.9" />
<path d="M882.9,159.1 L897.3,167.8 Q902.9,170.6 906.8,167.8 L912.9,158.9" fill="none" stroke="#111" stroke-width="1.9" />
<path d="M874.2,160.2 L881.7,166.7 L884.2,170.7 L878.4,170.7 L868.9,167.3" fill="none" stroke="#111" stroke-width="1.9" stroke-linejoin="round"/>
<path d="M945.2,160.6 L925.2,164.5 Q919.6,166.7 923,168.4 L934.1,167.8 L940.5,166.7" fill="none" stroke="#111" stroke-width="1.9" />
<path d="M932.4,175.4 L914,172.9 L905.1,174.1 L916.3,185" fill="none" stroke="#111" stroke-width="1.9" stroke-linejoin="round"/>
<path d="M909,176.7 Q916.3,175.8 923,177.4 L926.8,181.4" fill="none" stroke="#111" stroke-width="1.9" />
<path d="M861.7,172.3 L863.9,184.7" fill="none" stroke="#111" stroke-width="1.9" />
<polygon points="847.4,189.8 850,184.7 855.9,184.7 854.1,189.2" fill="#111" stroke="#111" stroke-width="0.7" stroke-linejoin="round"/>
<polygon points="879.7,189.8 888.2,189.8 886.4,182.1" fill="#111" stroke="#111" stroke-width="0.7" stroke-linejoin="round"/>
<polygon points="863.7,162.8 867.8,159.8 874.8,162.2 871.3,165.3" fill="#111" stroke="#111" stroke-width="0.7" stroke-linejoin="round"/>
<polygon points="889.3,155.1 898.9,155.8 897.8,161.1 895.3,158.9 891.5,158" fill="#111" stroke="#111" stroke-width="0.7" stroke-linejoin="round"/>
<polygon points="937.2,159.6 943.6,152.2 948.3,159.6" fill="#111" stroke="#111" stroke-width="0.7" stroke-linejoin="round"/>
<polygon points="922.1,181 933.2,181.6 929.6,185.9 924.5,183.6" fill="#111" stroke="#111" stroke-width="0.7" stroke-linejoin="round"/>
<line x1="863.7" y1="326.4" x2="863.7" y2="355.7" stroke="#111" stroke-width="1.9" />
<line x1="876.6" y1="326.4" x2="876.6" y2="355.7" stroke="#111" stroke-width="1.9" />
<line x1="889" y1="326.4" x2="889" y2="355.7" stroke="#111" stroke-width="1.9" />
<line x1="901.3" y1="326.4" x2="901.3" y2="355.7" stroke="#111" stroke-width="1.9" />
<line x1="913.7" y1="326.4" x2="913.7" y2="355.7" stroke="#111" stroke-width="1.9" />
<path d="M850.8,354.1 Q851.1,356.2 853.4,356.3 L861.1,356.3 Q863.4,356.2 863.7,354.1" fill="none" stroke="#111" stroke-width="1.9" />
<path d="M863.7,354.1 Q864,356.2 866.3,356.3 L874,356.3 Q876.3,356.2 876.6,354.1" fill="none" stroke="#111" stroke-width="1.9" />
<path d="M876.6,354.1 Q876.9,356.2 879.2,356.3 L886.4,356.3 Q888.7,356.2 889,354.1" fill="none" stroke="#111" stroke-width="1.9" />
<path d="M889,354.1 Q889.3,356.2 891.6,356.3 L898.7,356.3 Q901,356.2 901.3,354.1" fill="none" stroke="#111" stroke-width="1.9" />
<path d="M901.3,354.1 Q901.6,356.2 903.9,356.3 L911.1,356.3 Q913.4,356.2 913.7,354.1" fill="none" stroke="#111" stroke-width="1.9" />
<path d="M913.7,354.1 Q914,356.2 916.3,356.3 L921.4,356.3 Q923.7,356.2 924,354.1" fill="none" stroke="#111" stroke-width="1.9" />
<polygon points="854.8,333 859.8,333 857.3,339.2" fill="#111" stroke="#111" stroke-width="0.7" stroke-linejoin="round"/>
<polygon points="866.9,333 871.9,333 869.4,339.2" fill="#111" stroke="#111" stroke-width="0.7" stroke-linejoin="round"/>
<polygon points="879.4,333 884.4,333 881.9,339.2" fill="#111" stroke="#111" stroke-width="0.7" stroke-linejoin="round"/>
<polygon points="891.6,333 896.6,333 894.1,339.2" fill="#111" stroke="#111" stroke-width="0.7" stroke-linejoin="round"/>
<polygon points="904.1,333 909.1,333 906.6,339.2" fill="#111" stroke="#111" stroke-width="0.7" stroke-linejoin="round"/>
<polygon points="916.2,333 921.2,333 918.7,339.2" fill="#111" stroke="#111" stroke-width="0.7" stroke-linejoin="round"/>
<line x1="933.6" y1="317" x2="933.6" y2="346.8" stroke="#111" stroke-width="1.9" />
<line x1="942.6" y1="308.1" x2="942.6" y2="337.9" stroke="#111" stroke-width="1.9" />
<path d="M924,356.2 Q929.8,354.5 933.6,346.8" fill="none" stroke="#111" stroke-width="1.9" />
<path d="M933.6,346.8 Q939.1,345.3 942.6,337.9" fill="none" stroke="#111" stroke-width="1.9" />
<path d="M942.6,337.9 Q947.6,336.9 950.6,330" fill="none" stroke="#111" stroke-width="1.9" />
<polygon points="926.8,326.3 931,322.2 929.6,333.5" fill="#111" stroke="#111" stroke-width="0.7" stroke-linejoin="round"/>
<polygon points="935.6,318.6 939.6,314.8 938.2,326" fill="#111" stroke="#111" stroke-width="0.7" stroke-linejoin="round"/>
<polygon points="945,310.4 948.8,306.8 947.4,317.4" fill="#111" stroke="#111" stroke-width="0.7" stroke-linejoin="round"/>
<line x1="850.8" y1="326.4" x2="950.4" y2="300.2" stroke="#111" stroke-width="2.3" />
<line x1="877.2" y1="300.2" x2="924" y2="326.4" stroke="#111" stroke-width="2.3" />
<line x1="864" y1="313.3" x2="937.2" y2="313.3" stroke="#111" stroke-width="2.3" />
<line x1="887.4" y1="326.4" x2="913.8" y2="300.2" stroke="#111" stroke-width="2.3" />
<polygon points="869.5,323.8 881.8,323.8 889.3,318" fill="#111" stroke="#111" stroke-width="0.7" stroke-linejoin="round"/>
<polygon points="898.8,323.8 911.1,323.8 902.4,318" fill="#111" stroke="#111" stroke-width="0.7" stroke-linejoin="round"/>
<polygon points="922.5,320.6 926.9,316.2 911.4,315.7" fill="#111" stroke="#111" stroke-width="0.7" stroke-linejoin="round"/>
<polygon points="933,310.2 937.5,305.8 916.2,310.9" fill="#111" stroke="#111" stroke-width="0.7" stroke-linejoin="round"/>
<polygon points="931.7,302.8 919.4,302.8 911.9,308.6" fill="#111" stroke="#111" stroke-width="0.7" stroke-linejoin="round"/>
<polygon points="902.4,302.8 890.1,302.8 898.8,308.6" fill="#111" stroke="#111" stroke-width="0.7" stroke-linejoin="round"/>
<polygon points="878.7,306 874.3,310.4 889.8,310.9" fill="#111" stroke="#111" stroke-width="0.7" stroke-linejoin="round"/>
<polygon points="868.2,316.4 863.7,320.8 885,315.7" fill="#111" stroke="#111" stroke-width="0.7" stroke-linejoin="round"/>
<line x1="536.4" y1="469.1" x2="536.4" y2="499.1" stroke="#111" stroke-width="1.9" />
<line x1="549" y1="469.1" x2="549" y2="499.1" stroke="#111" stroke-width="1.9" />
<line x1="561" y1="469.1" x2="561" y2="499.1" stroke="#111" stroke-width="1.9" />
<line x1="573.6" y1="469.1" x2="573.6" y2="499.1" stroke="#111" stroke-width="1.9" />
<line x1="586" y1="469.1" x2="586" y2="499.1" stroke="#111" stroke-width="1.9" />
<path d="M523.6,497.5 Q523.9,499.6 526.2,499.7 L533.8,499.7 Q536.1,499.6 536.4,497.5" fill="none" stroke="#111" stroke-width="1.9" />
<path d="M536.4,497.5 Q536.7,499.6 539,499.7 L546.4,499.7 Q548.7,499.6 549,497.5" fill="none" stroke="#111" stroke-width="1.9" />
<path d="M549,497.5 Q549.3,499.6 551.6,499.7 L558.4,499.7 Q560.7,499.6 561,497.5" fill="none" stroke="#111" stroke-width="1.9" />
<path d="M561,497.5 Q561.3,499.6 563.6,499.7 L571,499.7 Q573.3,499.6 573.6,497.5" fill="none" stroke="#111" stroke-width="1.9" />
<path d="M573.6,497.5 Q573.9,499.6 576.2,499.7 L583.4,499.7 Q585.7,499.6 586,497.5" fill="none" stroke="#111" stroke-width="1.9" />
<path d="M586,497.5 Q586.3,499.6 588.6,499.7 L594.3,499.7 Q596.6,499.6 596.9,497.5" fill="none" stroke="#111" stroke-width="1.9" />
<polygon points="527.5,475.2 532.5,475.2 530,481.8" fill="#111" stroke="#111" stroke-width="0.7" stroke-linejoin="round"/>
<polygon points="552.5,475.2 557.5,475.2 555,481.8" fill="#111" stroke="#111" stroke-width="0.7" stroke-linejoin="round"/>
<polygon points="577.5,475.2 582.5,475.2 580,481.8" fill="#111" stroke="#111" stroke-width="0.7" stroke-linejoin="round"/>
<line x1="606.5" y1="459.5" x2="606.5" y2="489.4" stroke="#111" stroke-width="1.9" />
<line x1="615.7" y1="450.4" x2="615.7" y2="480.3" stroke="#111" stroke-width="1.9" />
<path d="M596.9,499 Q602.7,497.2 606.5,489.4" fill="none" stroke="#111" stroke-width="1.9" />
<path d="M606.5,489.4 Q612.1,487.8 615.7,480.3" fill="none" stroke="#111" stroke-width="1.9" />
<path d="M615.7,480.3 Q620.7,479.3 623.7,472.3" fill="none" stroke="#111" stroke-width="1.9" />
<polygon points="599.4,468.2 602.4,465.2 601.4,476.2" fill="#111" stroke="#111" stroke-width="0.7" stroke-linejoin="round"/>
<polygon points="619.8,450.6 622.2,448.2 621.4,458" fill="#111" stroke="#111" stroke-width="0.7" stroke-linejoin="round"/>
<line x1="523.6" y1="469.1" x2="623.3" y2="442.4" stroke="#111" stroke-width="1.7" />
<line x1="550" y1="442.4" x2="596.9" y2="469.1" stroke="#111" stroke-width="1.7" />
<line x1="536.8" y1="455.8" x2="610.1" y2="455.8" stroke="#111" stroke-width="1.7" />
<line x1="560.2" y1="469.1" x2="586.6" y2="442.4" stroke="#111" stroke-width="1.7" />
<polygon points="542.4,466.4 554.7,466.4 562.1,460.6" fill="#111" stroke="#111" stroke-width="0.7" stroke-linejoin="round"/>
<polygon points="595.4,463.2 599.8,458.7 584.3,458.2" fill="#111" stroke="#111" stroke-width="0.7" stroke-linejoin="round"/>
<polygon points="604.5,445.1 592.2,445.1 584.8,450.9" fill="#111" stroke="#111" stroke-width="0.7" stroke-linejoin="round"/>
<polygon points="551.5,448.3 547.1,452.8 562.6,453.3" fill="#111" stroke="#111" stroke-width="0.7" stroke-linejoin="round"/>
<polygon points="469.5,499.1 478.7,489.5 498.8,489.5 508.5,499.1 498.4,510.8 479.9,510.8" fill="none" stroke="#111" stroke-width="2.1" />
<line x1="469.5" y1="499.1" x2="508.5" y2="499.1" stroke="#111" stroke-width="1.8" />
<polygon points="463,496.3 468.3,493.1 467.1,497.9" fill="#111" stroke="#111" stroke-width="0.7" stroke-linejoin="round"/>
<polygon points="463,502.7 467.1,500.7 468.3,506.4" fill="#111" stroke="#111" stroke-width="0.7" stroke-linejoin="round"/>
<polygon points="510.5,493.1 515.3,496.3 511.7,497.9" fill="#111" stroke="#111" stroke-width="0.7" stroke-linejoin="round"/>
<polygon points="511.7,500.7 515.3,502.7 510.9,506.4" fill="#111" stroke="#111" stroke-width="0.7" stroke-linejoin="round"/>
<polygon points="806.9,347.1 832.6,347.1 837.4,354.1 834.6,368 804.9,368 802.1,354.1" fill="none" stroke="#111" stroke-width="2.2" />
<line x1="802.1" y1="354.1" x2="837.4" y2="354.1" stroke="#111" stroke-width="2" />
<polygon points="796.4,349.5 802.9,344.2 801.7,352.3" fill="#111" stroke="#111" stroke-width="0.7" stroke-linejoin="round"/>
<polygon points="836.2,344.6 843.1,349.9 838.2,351.9" fill="#111" stroke="#111" stroke-width="0.7" stroke-linejoin="round"/>
<polygon points="794.4,362.3 800,360.3 800.9,368.4" fill="#111" stroke="#111" stroke-width="0.7" stroke-linejoin="round"/>
<polygon points="839.4,359.9 844.3,363.1 838.2,368" fill="#111" stroke="#111" stroke-width="0.7" stroke-linejoin="round"/>
<line x1="844.7" y1="505" x2="899.3" y2="485.9" stroke="#111" stroke-width="1.6" />
<line x1="865.9" y1="498.1" x2="867.2" y2="520.3" stroke="#111" stroke-width="1.6" />
<line x1="893" y1="488.3" x2="893.7" y2="520.3" stroke="#111" stroke-width="1.6" />
<line x1="893.7" y1="504.3" x2="918.5" y2="491.8" stroke="#111" stroke-width="1.6" />
<polygon points="853.3,491.1 864.5,490.4 856.1,496.7" fill="#111" stroke="#111" stroke-width="0.7" stroke-linejoin="round"/>
<polygon points="851.2,509.2 856.8,505.7 859.6,516.9" fill="#111" stroke="#111" stroke-width="0.7" stroke-linejoin="round"/>
<polygon points="873.5,509.2 883.3,505.7 884,511.3" fill="#111" stroke="#111" stroke-width="0.7" stroke-linejoin="round"/>
<polygon points="899.3,486.9 906.2,486.9 902.8,496.7" fill="#111" stroke="#111" stroke-width="0.7" stroke-linejoin="round"/>
<polygon points="902.8,504.3 909,504.3 906.2,514.1" fill="#111" stroke="#111" stroke-width="0.7" stroke-linejoin="round"/>
<line x1="863.8" y1="484.5" x2="865.2" y2="468.1" stroke="#111" stroke-width="1.6" />
<line x1="864.5" y1="475.8" x2="893.7" y2="459.1" stroke="#111" stroke-width="1.6" />
<line x1="888.1" y1="465.3" x2="901.4" y2="484.1" stroke="#111" stroke-width="1.6" />
<line x1="918.1" y1="459.1" x2="923" y2="477.2" stroke="#111" stroke-width="1.6" />
<polygon points="868.9,470.3 872.3,460.9 874.6,472.3" fill="#111" stroke="#111" stroke-width="0.7" stroke-linejoin="round"/>
<polygon points="853.3,480.6 856.8,476.5 856.8,481.3" fill="#111" stroke="#111" stroke-width="0.7" stroke-linejoin="round"/>
<polygon points="873.5,473.7 884,476.5 873.5,479.9" fill="#111" stroke="#111" stroke-width="0.7" stroke-linejoin="round"/>
<polygon points="901.4,474.4 906.2,463.2 909,474.4" fill="#111" stroke="#111" stroke-width="0.7" stroke-linejoin="round"/>
<polygon points="920.2,463.2 930.6,461.1 930.6,466.7" fill="#111" stroke="#111" stroke-width="0.7" stroke-linejoin="round"/>
<line x1="918.5" y1="486.5" x2="942.5" y2="487.3" stroke="#111" stroke-width="1.6" />
<line x1="918.5" y1="490.4" x2="934.1" y2="502.2" stroke="#111" stroke-width="1.6" />
<line x1="928.5" y1="496.6" x2="942.5" y2="488.6" stroke="#111" stroke-width="1.6" />
<polygon points="931.3,473 938.3,473 934.8,484.1" fill="#111" stroke="#111" stroke-width="0.7" stroke-linejoin="round"/>
<polygon points="920.2,496 927.1,504.3 921.6,507.1" fill="#111" stroke="#111" stroke-width="0.7" stroke-linejoin="round"/>
<polygon points="929.9,496 939,489.7 935.5,498.7" fill="#111" stroke="#111" stroke-width="0.7" stroke-linejoin="round"/>
<polyline points="728.4,460.6 745.9,457.2 757.2,479.2 747.1,498.3 730.9,497.9 720.7,480.9 728.4,460.6" fill="none" stroke="#111" stroke-width="1.7" stroke-linejoin="round" stroke-linecap="round" stroke-dasharray="3.6 1.8"/>
<polyline points="709.2,438.1 728.4,460.6" fill="none" stroke="#111" stroke-width="1.7" stroke-linejoin="round" stroke-linecap="round" stroke-dasharray="3.6 1.8"/>
<polyline points="767.9,451.7 745.9,457.2" fill="none" stroke="#111" stroke-width="1.7" stroke-linejoin="round" stroke-linecap="round" stroke-dasharray="3.6 1.8"/>
<polyline points="688.1,474.5 720.7,480.9" fill="none" stroke="#111" stroke-width="1.7" stroke-linejoin="round" stroke-linecap="round" stroke-dasharray="3.6 1.8"/>
<polyline points="707.2,513.2 730.9,497.9" fill="none" stroke="#111" stroke-width="1.7" stroke-linejoin="round" stroke-linecap="round" stroke-dasharray="3.6 1.8"/>
<polyline points="753.3,519.6 747.1,498.3" fill="none" stroke="#111" stroke-width="1.7" stroke-linejoin="round" stroke-linecap="round" stroke-dasharray="3.6 1.8"/>
<polyline points="757.2,479.2 765.7,495.4" fill="none" stroke="#111" stroke-width="1.7" stroke-linejoin="round" stroke-linecap="round" stroke-dasharray="3.6 1.8"/>
<polygon points="709.2,438.1 744.2,436.8 767.9,451.7 774.7,469.4 765.7,495.4 753.3,519.6 730.9,516.2 707.2,513.2 688.1,474.5" fill="none" stroke="#111" stroke-width="2.0" stroke-linejoin="round" stroke-linecap="round"/>
<polyline points="709.2,438.1 719.4,455.5" fill="none" stroke="#111" stroke-width="1.8" stroke-linejoin="round" stroke-linecap="round"/>
<polyline points="744.2,436.8 743.7,449.5" fill="none" stroke="#111" stroke-width="1.8" stroke-linejoin="round" stroke-linecap="round"/>
<polyline points="719.4,455.5 743.7,449.5 761.5,473.3 753,495.4 718.2,484.3 716,468.7 719.4,455.5" fill="none" stroke="#111" stroke-width="1.8" stroke-linejoin="round" stroke-linecap="round"/>
<polyline points="774.7,469.4 761.5,473.3" fill="none" stroke="#111" stroke-width="1.8" stroke-linejoin="round" stroke-linecap="round"/>
<polyline points="753,495.4 753.3,519.6" fill="none" stroke="#111" stroke-width="1.8" stroke-linejoin="round" stroke-linecap="round"/>
<polyline points="718.2,484.3 707.2,513.2" fill="none" stroke="#111" stroke-width="1.8" stroke-linejoin="round" stroke-linecap="round"/>
<polyline points="688.1,474.5 716,468.7" fill="none" stroke="#111" stroke-width="1.8" stroke-linejoin="round" stroke-linecap="round"/>
<polygon points="726.7,444.9 735.2,444.4 734,451.2" fill="#111" stroke="#111" stroke-width="0.7" stroke-linejoin="round"/>
<polygon points="703.4,455.1 712.3,458.5 710.6,464.8" fill="#111" stroke="#111" stroke-width="0.7" stroke-linejoin="round"/>
<polygon points="759.8,457.2 766.6,466.5 760.6,468.2" fill="#111" stroke="#111" stroke-width="0.7" stroke-linejoin="round"/>
<polygon points="734.7,479.2 742,471.6 740.3,481.8" fill="#111" stroke="#111" stroke-width="0.7" stroke-linejoin="round"/>
<polygon points="698.7,484.3 705.5,481.8 705.1,491.1" fill="#111" stroke="#111" stroke-width="0.7" stroke-linejoin="round"/>
<polygon points="730.1,502.2 736,502.2 731.8,512.3" fill="#111" stroke="#111" stroke-width="0.7" stroke-linejoin="round"/>
<polygon points="757.2,492 764.4,492.5 763.2,497.4" fill="#111" stroke="#111" stroke-width="0.7" stroke-linejoin="round"/>
<defs><radialGradient id="shade" cx="0.62" cy="0.55" r="0.55"><stop offset="0" stop-color="#777" stop-opacity="0.38"/><stop offset="0.6" stop-color="#999" stop-opacity="0.2"/><stop offset="1" stop-color="#bbb" stop-opacity="0"/></radialGradient><pattern id="dots" width="3" height="3" patternUnits="userSpaceOnUse"><rect width="3" height="3" fill="none"/><circle cx="0.8" cy="0.8" r="0.55" fill="#333" fill-opacity="0.55"/><circle cx="2.3" cy="2.2" r="0.4" fill="#333" fill-opacity="0.4"/></pattern></defs>
<path d="M168.8,77.1 L186.2,74.7 L201.3,63.7 L206.5,60.2 C205.4,78.2 197.8,94.5 187.1,105.5 C180.4,109.6 168.8,110.7 150.2,106.1 C166.5,101.5 169.9,89.8 168.8,77.1 Z" fill="url(#shade)" stroke="none"/>
<path d="M168.8,77.1 L186.2,74.7 L201.3,63.7 L206.5,60.2 C205.4,78.2 197.8,94.5 187.1,105.5 C180.4,109.6 168.8,110.7 150.2,106.1 C166.5,101.5 169.9,89.8 168.8,77.1 Z" fill="url(#dots)" stroke="none" opacity="0.7"/>
<path d="M129.3,62 C129.9,81.7 139.7,101.5 158.3,108.4 C168.8,110.7 180.4,109.6 187.1,105.5 C197.8,94.5 205.4,78.2 206.5,60.2" fill="none" stroke="#111" stroke-width="1.8" />
<path d="M129.3,62 L150.8,73.6 Q168.8,78.2 186.2,74.7 L201.3,63.4 L206.5,59.6" fill="none" stroke="#111" stroke-width="1.7" />
<line x1="129.8" y1="47.9" x2="129.3" y2="62" stroke="#111" stroke-width="1.8" />
<line x1="151.4" y1="56.7" x2="150.8" y2="73.6" stroke="#111" stroke-width="1.7" />
<line x1="183.9" y1="57.2" x2="186.2" y2="74.7" stroke="#111" stroke-width="1.8" />
<line x1="198.6" y1="49.9" x2="201.3" y2="63.4" stroke="#111" stroke-width="1.7" />
<line x1="206.4" y1="38.1" x2="206.5" y2="59.6" stroke="#111" stroke-width="1.7" />
<path d="M130.8,38.1 L129.8,47.9 L151.4,56.7 Q167.2,51.8 183.9,57.2 L198.6,49.9 L206.4,38.1" fill="none" stroke="#111" stroke-width="1.6" />
<line x1="165.7" y1="24.3" x2="130.8" y2="38.1" stroke="#111" stroke-width="1.35" />
<line x1="165.7" y1="24.3" x2="129.8" y2="47.9" stroke="#111" stroke-width="1.35" />
<line x1="165.7" y1="24.3" x2="151.4" y2="56.7" stroke="#111" stroke-width="1.35" />
<line x1="165.7" y1="24.3" x2="183.9" y2="57.2" stroke="#111" stroke-width="1.35" />
<line x1="165.7" y1="24.3" x2="198.6" y2="49.9" stroke="#111" stroke-width="1.35" />
<line x1="165.7" y1="24.3" x2="206.4" y2="38.1" stroke="#111" stroke-width="1.35" />
<polygon points="198.6,49.9 206.4,38.1 206.5,59.6 201.3,63.4" fill="#888" fill-opacity="0.25"/>
<line x1="186.9" y1="62.5" x2="186.9" y2="114.5" stroke="#111" stroke-width="2.1" />
<text transform="translate(342.7,36.6) rotate(-9.6)" font-size="10.8" textLength="38.6" lengthAdjust="spacingAndGlyphs" fill="#1c1c1c" stroke="#222" stroke-width="0.3">Horizontal</text>
<text transform="translate(328.6,82.2) rotate(0)" font-size="10.8" textLength="43.6" lengthAdjust="spacingAndGlyphs" fill="#1c1c1c" stroke="#222" stroke-width="0.3">Transversal</text>
<text transform="translate(390.9,78) rotate(-35.5)" font-size="10.8" textLength="25.2" lengthAdjust="spacingAndGlyphs" fill="#1c1c1c" stroke="#222" stroke-width="0.3">Sagittal</text>
<text x="481.8" y="130.2" font-size="13.5" font-weight="bold" textLength="24.1" lengthAdjust="spacingAndGlyphs" fill="#1c1c1c" stroke="#222" stroke-width="0.15">BAP</text>
<text x="643.6" y="129.9" font-size="13.5" font-weight="normal" textLength="31.3" lengthAdjust="spacingAndGlyphs" fill="#1c1c1c" stroke="#222" stroke-width="0.3">BALP</text>
<text x="808.4" y="131.2" font-size="13.5" font-weight="normal" textLength="30.8" lengthAdjust="spacingAndGlyphs" fill="#1c1c1c" stroke="#222" stroke-width="0.3">BALT</text>
<text x="73.7" y="248.3" font-size="13.5" font-weight="normal" textLength="22.3" lengthAdjust="spacingAndGlyphs" fill="#1c1c1c" stroke="#222" stroke-width="0.3">USP</text>
<text x="270.2" y="248" font-size="13.5" font-weight="normal" textLength="22.4" lengthAdjust="spacingAndGlyphs" fill="#1c1c1c" stroke="#222" stroke-width="0.3">BSP</text>
<text x="495" y="256.8" font-size="13.5" font-weight="normal" textLength="16.8" lengthAdjust="spacingAndGlyphs" fill="#1c1c1c" stroke="#222" stroke-width="0.3">UP</text>
<text x="817.8" y="259" font-size="13.5" font-weight="normal" textLength="15.8" lengthAdjust="spacingAndGlyphs" fill="#1c1c1c" stroke="#222" stroke-width="0.3">BP</text>
<text x="65.4" y="392.8" font-size="13.5" font-weight="bold" textLength="30.8" lengthAdjust="spacingAndGlyphs" fill="#1c1c1c" stroke="#222" stroke-width="0.15">UAU1</text>
<text x="268" y="388.7" font-size="13.5" font-weight="bold" textLength="30.3" lengthAdjust="spacingAndGlyphs" fill="#1c1c1c" stroke="#222" stroke-width="0.15">UAU2</text>
<text x="496.2" y="400.8" font-size="13.5" font-weight="normal" textLength="17.2" lengthAdjust="spacingAndGlyphs" fill="#1c1c1c" stroke="#222" stroke-width="0.3">UC</text>
<text x="808" y="401.5" font-size="13.5" font-weight="normal" textLength="25" lengthAdjust="spacingAndGlyphs" fill="#1c1c1c" stroke="#222" stroke-width="0.3">BHC</text>
<text x="60" y="537.9" font-size="13.5" font-weight="bold" textLength="32.5" lengthAdjust="spacingAndGlyphs" fill="#1c1c1c" stroke="#222" stroke-width="0.15">UAUT</text>
<text x="271.2" y="540.8" font-size="13.5" font-weight="bold" textLength="28.8" lengthAdjust="spacingAndGlyphs" fill="#1c1c1c" stroke="#222" stroke-width="0.15">UABI</text>
<text x="460.2" y="544.7" font-size="13.5" font-weight="bold" textLength="48.7" lengthAdjust="spacingAndGlyphs" fill="#1c1c1c" stroke="#222" stroke-width="0.15">DISCOID</text>
<text x="695.6" y="541.7" font-size="13.5" font-weight="normal" textLength="82.5" lengthAdjust="spacingAndGlyphs" fill="#1c1c1c" stroke="#222" stroke-width="0.3">POLYHEDRAL</text>
<text x="855.6" y="541.7" font-size="13.5" font-weight="normal" textLength="82" lengthAdjust="spacingAndGlyphs" fill="#1c1c1c" stroke="#222" stroke-width="0.3">MULTIFACIAL</text>
</g>
</svg>
</body></html>
